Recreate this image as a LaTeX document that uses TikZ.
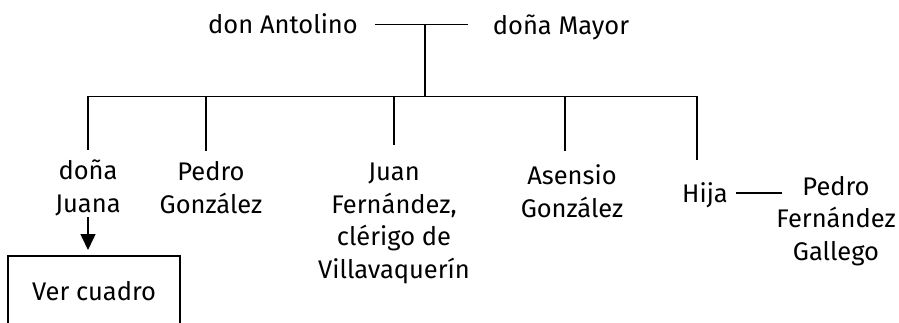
\documentclass[tikz,border=0pt]{standalone}
\usepackage{fontspec}
\setmainfont{Fira Sans}
\usetikzlibrary{arrows.meta}
\begin{document}
\begin{tikzpicture}[x=1pt,y=-1pt,
  person/.style={font=\fontsize{25.5}{32.5}\selectfont, align=center, anchor=base, inner sep=3pt},
  link/.style={line width=1.5pt},
  refbox/.style={draw, line width=1.5pt, minimum width=172pt, minimum height=70pt, font=\fontsize{25.5}{32.5}\selectfont}]
\useasboundingbox (0,0) rectangle (899,323);
% parents
\node[person] (ant) at (283,34) {don Antolino};
\node[person] (may) at (561,35) {doña Mayor};
\coordinate (m1) at (375,24.5);
\coordinate (m2) at (468,24.5);
\coordinate (mid) at (425,24.5);
\coordinate (bar) at (425,96.5);
\draw[link] (m1) -- (m2);
\draw[link] (mid) -- (bar);
% children (anchor = baseline of last line)
\node[person] (jua) at (88,212) {doña\\Juana};
\node[person] (ped) at (211,213) {Pedro\\González};
\node[person] (jfe) at (394,278) {Juan\\Fernández,\\clérigo de\\Villavaquerín};
\node[person] (ase) at (572,217) {Asensio\\González};
\node[person] (hij) at (705,203) {Hija};
\node[person] (pfg) at (836,260) {Pedro\\Fernández\\Gallego};
\node[refbox] (ver) at (94,291) {Ver cuadro};
% sibling bar
\coordinate (b1) at (88,96.5);
\coordinate (b2) at (206,96.5);
\coordinate (b3) at (394,96.5);
\coordinate (b4) at (565,96.5);
\coordinate (b5) at (697,96.5);
\coordinate (d1) at (88,150);
\coordinate (d2) at (206,151);
\coordinate (d3) at (394,145);
\coordinate (d4) at (565,151);
\coordinate (d5) at (697,160);
\draw[link] (b1) -- (b5);
\draw[link] (b1) -- (d1);
\draw[link] (b2) -- (d2);
\draw[link] (b3) -- (d3);
\draw[link] (b4) -- (d4);
\draw[link] (b5) -- (d5);
% arrow
\coordinate (a1) at (88,217);
\coordinate (a2) at (88,250);
\draw[link,-{Triangle[width=15pt,length=16pt]}] (a1) -- (a2);
% marriage of Hija
\coordinate (h1) at (736,193);
\coordinate (h2) at (782,193);
\draw[link] (h1) -- (h2);
\end{tikzpicture}
\end{document}
